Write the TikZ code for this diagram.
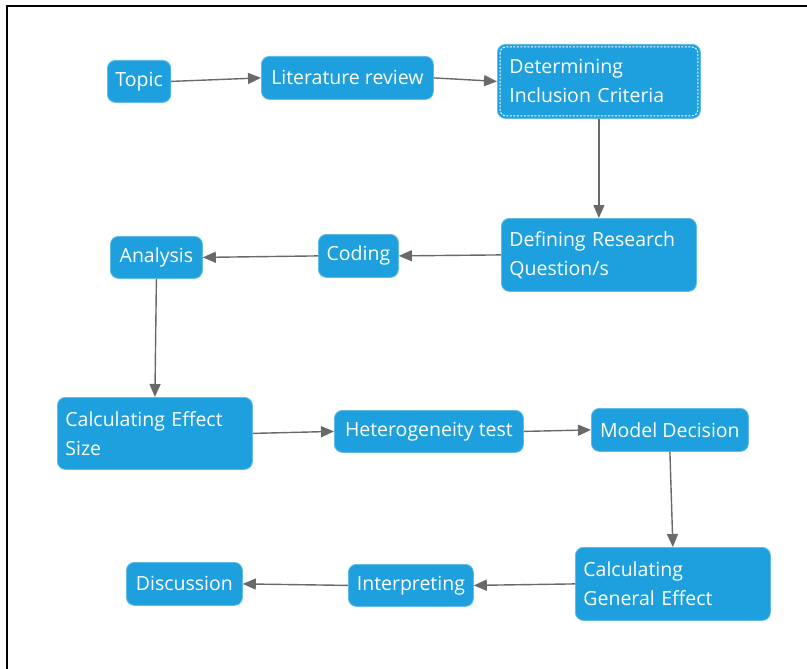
\documentclass[tikz,border=0pt]{standalone}
\usepackage{fontspec}
\setmainfont{Open Sans}
\usetikzlibrary{arrows.meta}
\definecolor{boxblue}{RGB}{30,160,222}
\definecolor{linkgrey}{RGB}{105,105,105}
\begin{document}
\begin{tikzpicture}[x=1pt,y=-1pt,
  box/.style={fill=boxblue, draw=boxblue!70!white, line width=0.8pt, rounded corners=8pt,
    text=white, anchor=north west, inner xsep=8pt, inner ysep=2pt,
    font=\fontsize{19.5}{29}\selectfont},
  multibox/.style={box, align=left},
  link/.style={draw=linkgrey, line width=1.4pt, -{Triangle[length=13pt,width=11pt]}}]
  \useasboundingbox (0,0) rectangle (807,669);
  \fill[white] (0,0) rectangle (807,669);
  % outer frame
  \draw[line width=1.6pt, black] (807,6) -- (7,6) -- (7,669);

  % nodes
  \node[box, minimum width=63pt, minimum height=42pt] (topic) at (107,60) {Topic};
  \node[box, minimum width=172pt, minimum height=43pt] (lit) at (261,56) {Literature review};
  \node[multibox, inner xsep=12pt, text width=179pt, minimum height=74pt] (det) at (497,44) {Determining\\Inclusion Criteria};
  \node[multibox, text width=179pt, minimum height=73pt] (def) at (501,218) {Defining Research\\Question/s};
  \node[box, minimum width=80pt, minimum height=43pt] (cod) at (318,234) {Coding};
  \node[box, minimum width=92pt, minimum height=42pt] (ana) at (110,236) {Analysis};
  \node[multibox, text width=179pt, minimum height=72pt] (ces) at (57,397) {Calculating Effect\\Size};
  \node[box, minimum width=189pt, minimum height=42pt] (het) at (334,410) {Heterogeneity test};
  \node[box, minimum width=157pt, minimum height=43pt] (mod) at (591,408) {Model Decision};
  \node[multibox, text width=179pt, minimum height=73pt] (cge) at (575,547) {Calculating\\General Effect};
  \node[box, minimum width=125pt, minimum height=42pt] (int) at (348,564) {Interpreting};
  \node[box, minimum width=116pt, minimum height=43pt] (dis) at (126,562) {Discussion};

  % dashed inner border of the selected node
  \draw[white, line width=1pt, dash pattern=on 2pt off 1.5pt, rounded corners=6pt]
    ([shift={(3,3)}]det.north west) rectangle ([shift={(-3,-3)}]det.south east);

  % connectors
  \draw[link] (topic.east) -- (lit.west);
  \draw[link] (lit.east) -- (det.west);
  \draw[link] (det.south) -- (def.north);
  \draw[link] (def.west) -- (cod.east);
  \draw[link] (cod.west) -- (ana.east);
  \draw[link] (ana.south) -- (ces.north);
  \draw[link] (ces.east) -- (het.west);
  \draw[link] (het.east) -- (mod.west);
  \draw[link] (mod.south) -- (cge.north);
  \draw[link] (cge.west) -- (int.east);
  \draw[link] (int.west) -- (dis.east);
\end{tikzpicture}
\end{document}
